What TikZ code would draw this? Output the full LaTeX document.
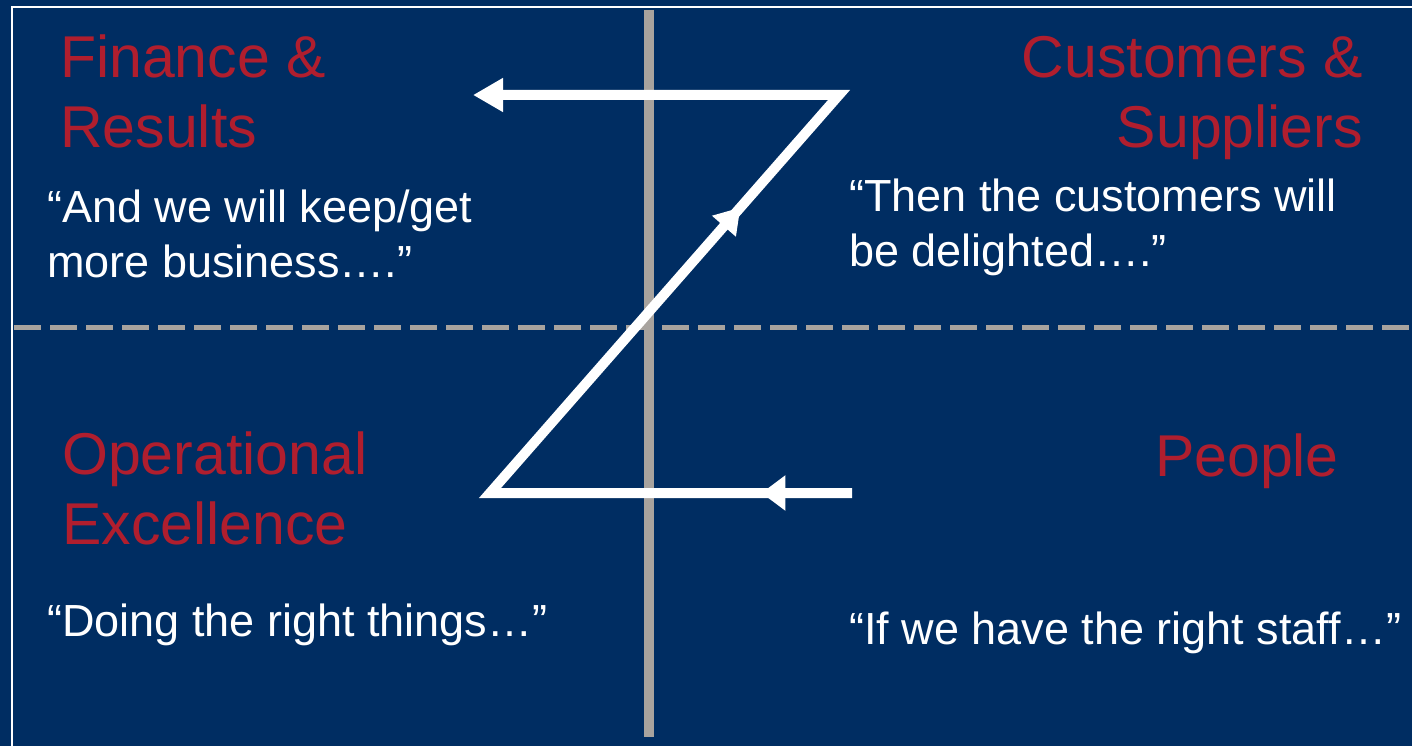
\documentclass[tikz,border=0pt]{standalone}
\usepackage{fontspec}
\setmainfont{Liberation Sans}
\usetikzlibrary{arrows.meta, decorations.markings}
\definecolor{navy}{HTML}{002D62}
\definecolor{headred}{HTML}{B01E2E}
\definecolor{rulegray}{HTML}{A8A39E}

\begin{document}
\begin{tikzpicture}[x=1pt,y=-1pt,
  title/.style={text=headred, font=\fontsize{59}{70}\selectfont, inner sep=0pt},
  quote/.style={text=white, font=\fontsize{45}{55}\selectfont, inner sep=0pt},
  zpath/.style={white, line width=10pt, line join=miter}]
\fill[navy] (0,0) rectangle (1412,746);
\useasboundingbox (0,0) rectangle (1412,746);
\draw[white, line width=2.5pt] (12,746) -- (12,7) -- (1412,7);
\draw[rulegray, line width=5pt, dash pattern=on 27pt off 9pt] (14,327) -- (1412,327);
\draw[rulegray, line width=10pt] (649,10) -- (649,737);
% the Z
\coordinate (start) at (852,493);
\coordinate (lowturn) at (490,493);
\coordinate (highturn) at (839,95);
\coordinate (finish) at (473,95);
\draw[zpath, -{Triangle[length=30pt,width=32pt]},
  postaction={decorate}, decoration={markings,
    mark=at position 0.072 with {\arrow{Triangle[length=24pt,width=34pt]}},
    mark=at position 0.59 with {\arrow{Triangle[length=25pt,width=30pt]}}}]
  (start) -- (lowturn) -- (highturn) -- (finish);
% headings (base = last line)
\node[title, anchor=base west, align=left] (finance) at (60,148) {Finance \&\\Results};
\node[title, anchor=base east, align=right] (customers) at (1363,148) {Customers \&\\Suppliers};
\node[title, anchor=base west, align=left] (operational) at (62,544) {Operational\\Excellence};
\node[title, anchor=base east] (people) at (1339,476) {People};
% quotes
\node[quote, anchor=base west, align=left] (keepget) at (47,277) {“And we will keep/get\\more business….”};
\node[quote, anchor=base west, align=left] (delighted) at (849,266) {“Then the customers will\\be delighted….”};
\node[quote, anchor=base west] (rightthings) at (47,636) {“Doing the right things…”};
\node[quote, anchor=base west] (rightstaff) at (849,644) {“If we have the right staff…”};
\end{tikzpicture}
\end{document}
